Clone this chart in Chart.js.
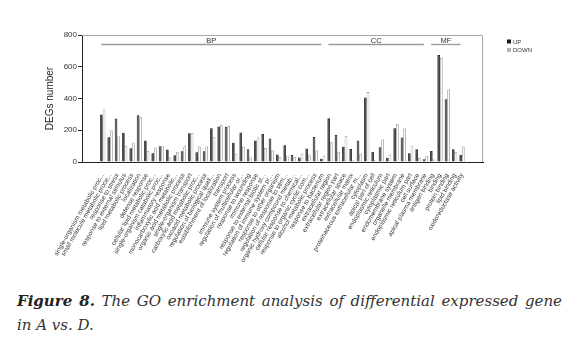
<!DOCTYPE html>
<html>
<head>
<meta charset="utf-8">
<script src="https://cdn.jsdelivr.net/npm/chart.js@4.4.1/dist/chart.umd.min.js"></script>
<style>
  body { margin: 0; background: #fff; }
  #wrap { position: absolute; left: 0; top: 0; width: 577px; height: 270px; }
  #caption {
    position: absolute; left: 17px; top: 289px; width: 545px;
    font: italic 15px "DejaVu Serif", serif; line-height: 24px;
    color: #333; text-align: justify;
  }
  #caption b { font-weight: bold; color: #222; }
</style>
</head>
<body>
<div id="wrap"><canvas id="goChart" width="577" height="270"></canvas></div>
<div id="caption"><b>Figure 8.</b> The GO enrichment analysis of differential expressed gene in A vs. D.</div>
<script>
// GO terms, in the order they are plotted (BP, then CC, then MF)
let goTerms = [
    "single-organism metabolic proc...", "small molecule metabolic proce...", "response to stress",
    "response to external stimulus", "lipid metabolic process", "localization", "defense response",
    "cellular lipid metabolic proc...", "single-organism catabolic proc...", "inflammatory response",
    "monocarboxylic acid metabolic...", "organic acid metabolic process", "single-organism transport",
    "carboxylic acid metabolic proc...", "oxoacid metabolic process", "regulation of biological quali...",
    "establishment of localization", "transport", "immune system process",
    "regulation of multicellular or...", "response to wounding", "immune response",
    "response to external biotic st...", "regulation of immune system pr...", "response to other organism",
    "regulation of response to stim...", "organic hydroxy compound metab...", "cellular response to chemical...",
    "response to organic cyclic com...", "alcohol metabolic process", "response to bacterium",
    "extracellular region", "extracellular region part", "extracellular space", "extracellular matrix",
    "proteinaceous extracellular m...", "cytoplasm", "apical part of cell", "endoplasmic reticulum",
    "cytoplasmic part", "endomembrane system", "organelle membrane", "endoplasmic reticulum part",
    "cell surface", "apical plasma membrane",
    "antigen binding", "binding", "protein binding", "lipid binding", "oxidoreductase activity"
];
let upCounts = [
    299, 156, 274, 185, 86, 295, 135, 55, 100, 79, 42, 67, 181, 62, 67, 212, 224, 222, 121, 186,
    80, 135, 176, 148, 48, 106, 44, 28, 85, 158, 21,
    276, 171, 96, 82, 135, 406, 65, 93, 27, 212, 155, 55, 80, 17,
    69, 674, 396, 80, 46
];
let downCounts = [
    330, 198, 160, 99, 122, 282, 67, 91, 100, 28, 61, 99, 181, 97, 98, 159, 231, 226, 54, 97,
    29, 154, 88, 72, 30, 40, 30, 54, 48, 72, 41,
    124, 65, 162, 10, 52, 441, 10, 141, 47, 238, 211, 103, 27, 40,
    15, 657, 457, 61, 97
];
let yTicks = [0, 200, 400, 600, 800];

// ontology groups drawn as brackets above the bars
let groupNames = ["BP", "CC", "MF"];
let groupFirst = [0, 31, 45];
let groupLast = [30, 44, 49];

let seriesNames = ["UP", "DOWN"];

function toPoints(values) {
    return values.map(function(v, i) { return { x: i, y: v }; });
}

const groupBrackets = {
    id: "groupBrackets",
    afterDraw: function(chart) {
        let ctx = chart.ctx;
        let xs = chart.scales.x;
        let area = chart.chartArea;
        let lineY = area.top + 9.5;
        ctx.save();
        // frame around the plot
        ctx.strokeStyle = "#a8a8a8";
        ctx.lineWidth = 1;
        ctx.beginPath();
        ctx.moveTo(area.left, area.top + 0.5);
        ctx.lineTo(area.right - 0.5, area.top + 0.5);
        ctx.lineTo(area.right - 0.5, area.bottom);
        ctx.stroke();

        ctx.font = "7.5px 'Liberation Sans', Arial, sans-serif";
        ctx.textAlign = "center";
        ctx.textBaseline = "alphabetic";
        for (let g = 0; g < groupNames.length; g++) {
            let x0 = xs.getPixelForValue(groupFirst[g]) - 1.5;
            let x1 = xs.getPixelForValue(groupLast[g]) - 1.5;
            ctx.strokeStyle = "#9a9a9a";
            ctx.lineWidth = 1.3;
            ctx.beginPath();
            ctx.moveTo(x0, lineY);
            ctx.lineTo(x1, lineY);
            ctx.stroke();
            ctx.fillStyle = "#333";
            ctx.fillText(groupNames[g], (x0 + x1) / 2, lineY - 2);
        }

        // legend
        let swatch = ["#1a1a1a", "#b4b4b4"];
        ctx.font = "6px 'Liberation Sans', Arial, sans-serif";
        ctx.textAlign = "left";
        ctx.textBaseline = "middle";
        for (let i = 0; i < seriesNames.length; i++) {
            let cy = 41.5 + i * 8.5;
            ctx.fillStyle = swatch[i];
            ctx.fillRect(507, cy - 2, 4, 4);
            ctx.fillStyle = "#333";
            ctx.fillText(seriesNames[i], 513, cy + 0.5);
        }
        ctx.restore();
    }
};

let chGo = document.getElementById("goChart");
new Chart(chGo, {
    type: "bar",
    data: {
        datasets: [
            {
                label: seriesNames[0],
                data: toPoints(upCounts),
                backgroundColor: "#3c3c3c",
                borderColor: "#111",
                borderWidth: 0.8
            },
            {
                label: seriesNames[1],
                data: toPoints(downCounts),
                backgroundColor: "#fafafa",
                borderColor: "#7a7a7a",
                borderWidth: 0.7
            }
        ]
    },
    options: {
        responsive: false,
        animation: false,
        devicePixelRatio: 1,
        layout: { padding: { top: 35, right: 94, left: 0, bottom: 0 } },
        datasets: { bar: { categoryPercentage: 0.72, barPercentage: 1.0 } },
        plugins: { legend: { display: false }, tooltip: { enabled: false } },
        scales: {
            x: {
                type: "linear",
                min: -2.32,
                max: 51.36,
                grid: { display: false },
                border: { display: true, color: "#222", width: 1 },
                ticks: {
                    stepSize: 1,
                    autoSkip: false,
                    includeBounds: false,
                    minRotation: 60,
                    maxRotation: 60,
                    padding: 2,
                    color: "#333",
                    font: { family: "'Liberation Sans', Arial, sans-serif", size: 6.4 },
                    callback: function(v) {
                        return goTerms[v] !== undefined ? goTerms[v] : "";
                    }
                },
                afterFit: function(scale) { scale.height = 108; }
            },
            y: {
                min: 0,
                max: 800,
                afterBuildTicks: function(scale) {
                    scale.ticks = yTicks.map(function(v) { return { value: v }; });
                },
                grid: { drawOnChartArea: false, drawTicks: true, tickLength: 4, color: "#222" },
                border: { display: true, color: "#222", width: 1 },
                ticks: {
                    padding: 1,
                    color: "#333",
                    font: { family: "'Liberation Sans', Arial, sans-serif", size: 8 }
                },
                title: {
                    display: true,
                    text: "DEGs number",
                    color: "#222",
                    font: { family: "'Liberation Sans', Arial, sans-serif", size: 10 },
                    padding: { top: 44, bottom: 0 }
                },
                afterFit: function(scale) { scale.width = 82; }
            }
        }
    },
    plugins: [groupBrackets]
});
</script>
</body>
</html>
